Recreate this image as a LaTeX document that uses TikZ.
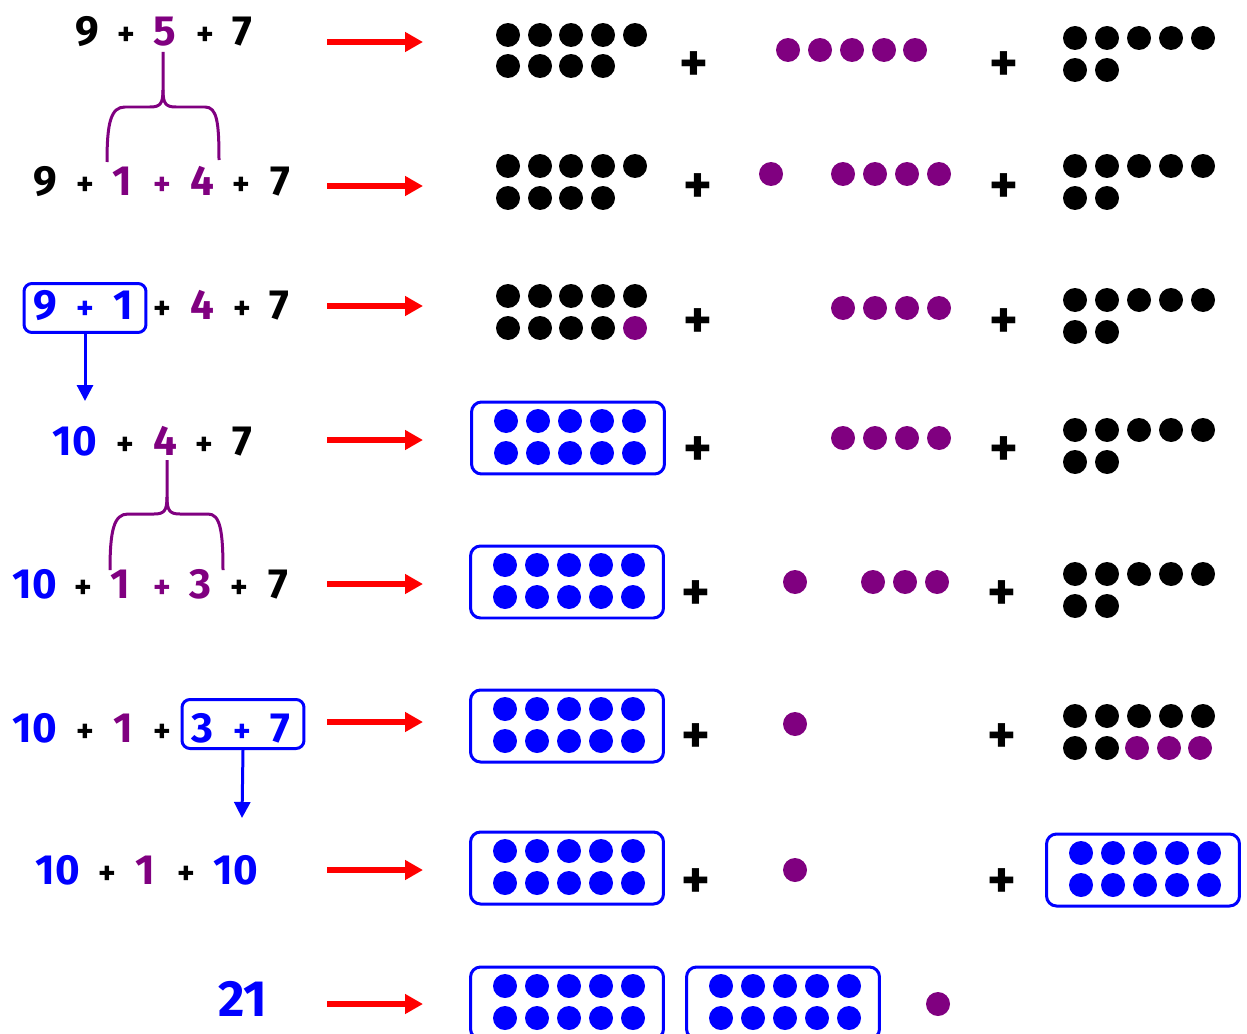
\documentclass[tikz,border=0pt]{standalone}
\usepackage{fontspec}
\setmainfont{Fira Sans}
\usepackage{xcolor}
\usepackage{tikz}
\usetikzlibrary{arrows.meta, positioning}

\definecolor{numblue}{RGB}{0,0,255}
\definecolor{numpurple}{RGB}{128,0,128}

\begin{document}
\begin{tikzpicture}[
    x=0.02cm, y=-0.02cm,
    num/.style={anchor=base, inner sep=0pt, font=\fontsize{24}{24}\selectfont\bfseries},
    bignum/.style={num, font=\fontsize{29}{29}\selectfont\bfseries},
    op/.style={anchor=base, inner sep=0pt, font=\fontsize{19}{19}\selectfont\bfseries},
    bigplus/.style={inner sep=0pt, yshift=-0.08cm, font=\fontsize{31}{31}\selectfont\bfseries},
    sum_box/.style={draw=numblue, line width=0.06cm, rounded corners=0.16cm, minimum width=2.44cm, minimum height=0.98cm},
    ten_box/.style={draw=numblue, line width=0.06cm, rounded corners=0.2cm, minimum width=3.86cm, minimum height=1.44cm},
    move/.style={-{Triangle[length=0.36cm, width=0.38cm]}, line width=0.12cm, red},
    drop/.style={-{Triangle[length=0.32cm, width=0.32cm]}, line width=0.06cm, numblue},
    brace/.style={draw=numpurple, line width=0.06cm}
]
\useasboundingbox (0,0) rectangle (1247,1034);

% Left column: the sums
\node[num] (r1_a) at (87,46) {9};
\node[op] (r1_b) at (126,46) {+};
\node[num, numpurple] (r1_c) at (165,46) {5};
\node[op] (r1_d) at (205,46) {+};
\node[num] (r1_e) at (242,46) {7};

\node[num] (r2_a) at (45,195) {9};
\node[op] (r2_b) at (85,195) {+};
\node[num, numpurple] (r2_c) at (122,195) {1};
\node[op, numpurple] (r2_d) at (162,195) {+};
\node[num, numpurple] (r2_e) at (202,195) {4};
\node[op] (r2_f) at (241,195) {+};
\node[num] (r2_g) at (280,195) {7};

\node[sum_box] (sum_a) at (85,308) {};
\node[num, numblue] (r3_a) at (45,319) {9};
\node[op, numblue] (r3_b) at (85,319) {+};
\node[num, numblue] (r3_c) at (123,319) {1};
\node[op] (r3_d) at (162,319) {+};
\node[num, numpurple] (r3_e) at (202,319) {4};
\node[op] (r3_f) at (242,319) {+};
\node[num] (r3_g) at (279,319) {7};

\node[num, numblue] (r4_a) at (75,455) {10};
\node[op] (r4_b) at (125,455) {+};
\node[num, numpurple] (r4_c) at (165,455) {4};
\node[op] (r4_d) at (204,455) {+};
\node[num] (r4_e) at (242,455) {7};

\node[num, numblue] (r5_a) at (35,598) {10};
\node[op] (r5_b) at (83,598) {+};
\node[num, numpurple] (r5_c) at (120,598) {1};
\node[op, numpurple] (r5_d) at (162,598) {+};
\node[num, numpurple] (r5_e) at (200,598) {3};
\node[op] (r5_f) at (239,598) {+};
\node[num] (r5_g) at (278,598) {7};

\node[sum_box] (sum_b) at (243,724) {};
\node[num, numblue] (r6_a) at (35,742) {10};
\node[op] (r6_b) at (85,742) {+};
\node[num, numpurple] (r6_c) at (123,742) {1};
\node[op] (r6_d) at (162,742) {+};
\node[num, numblue] (r6_e) at (202,742) {3};
\node[op, numblue] (r6_f) at (242,742) {+};
\node[num, numblue] (r6_g) at (280,742) {7};

\node[num, numblue] (r7_a) at (58,884) {10};
\node[op] (r7_b) at (107,884) {+};
\node[num, numpurple] (r7_c) at (145,884) {1};
\node[op] (r7_d) at (186,884) {+};
\node[num, numblue] (r7_e) at (236,884) {10};

\node[bignum, numblue] (r8_a) at (243,1016) {21};

% Braces splitting 5 and 4
\draw[brace] (163,52) -- (163,90) .. controls (163,104) and (160,107) .. (150,107) -- (125,107)
    .. controls (111,107) and (107,122) .. (107,162);
\draw[brace] (163,90) .. controls (163,104) and (166,107) .. (176,107) -- (205,107)
    .. controls (217,107) and (219,122) .. (219,160);
\draw[brace] (167,460) -- (167,497) .. controls (167,511) and (164,514) .. (154,514) -- (128,514)
    .. controls (114,514) and (110,530) .. (110,570);
\draw[brace] (167,497) .. controls (167,511) and (170,514) .. (180,514) -- (208,514)
    .. controls (220,514) and (223,530) .. (223,570);

% Blue arrows under the boxed sums
\coordinate (sum_a_to) at (85,401);
\coordinate (sum_b_to) at (242,818);
\draw[drop] (sum_a.south) -- (sum_a_to);
\draw[drop] (sum_b.south) -- (sum_b_to);

% Red arrows
\foreach \y [count=\i] in {42,186,306,440,584,722,870,1004} {
    \coordinate (move\i_from) at (327,\y);
    \coordinate (move\i_to) at (423,\y);
    \draw[move] (move\i_from) -- (move\i_to);
}

% Plus signs between the groups
\foreach \y/\xa/\xb [count=\i] in {63/694/1004, 185/698/1004, 320/698/1004, 448/698/1004,
    592/696/1002, 735/696/1002, 880/696/1002} {
    \node[bigplus] (plus\i_l) at (\xa,\y) {+};
    \node[bigplus] (plus\i_r) at (\xb,\y) {+};
}

% Tens frames
\node[ten_box] (ten4) at (568,438) {};
\node[ten_box] (ten5) at (567,582) {};
\node[ten_box] (ten6) at (567,726) {};
\node[ten_box] (ten7) at (567,868) {};
\node[ten_box] (ten7_r) at (1143,870) {};
\node[ten_box] (ten8_a) at (567,1003) {};
\node[ten_box] (ten8_b) at (783,1003) {};
\foreach \b in {ten4,ten5,ten6,ten7,ten7_r,ten8_a,ten8_b}
    \foreach \dx in {-64,-32,0,32,64}
        \foreach \dy in {-16,16}
            \fill[numblue] ([shift={(\dx+2,\dy-1)}]\b.center) circle[radius=0.24cm];

% Black counters
\foreach \y in {35,166,296}
    \foreach \x in {508,540,571,603,635} \fill (\x,\y) circle[radius=0.24cm];
\foreach \y in {66,198}
    \foreach \x in {508,540,571,603} \fill (\x,\y) circle[radius=0.24cm];
\foreach \x in {508,540,571,603} \fill (\x,328) circle[radius=0.24cm];
\fill[numpurple] (635,328) circle[radius=0.24cm];

\foreach \y in {38,166,300,430,574,716}
    \foreach \x in {1075,1107,1139,1171,1203} \fill (\x,\y) circle[radius=0.24cm];
\foreach \y in {70,198,332,462,606,748}
    \foreach \x in {1075,1107} \fill (\x,\y) circle[radius=0.24cm];
\foreach \x in {1137,1169,1200} \fill[numpurple] (\x,748) circle[radius=0.24cm];

% Purple counters
\foreach \x in {788,820,852,884,915} \fill[numpurple] (\x,50) circle[radius=0.24cm];
\foreach \x in {771,843,875,907,939} \fill[numpurple] (\x,174) circle[radius=0.24cm];
\foreach \x in {843,875,907,939} \fill[numpurple] (\x,308) circle[radius=0.24cm];
\foreach \x in {843,875,907,939} \fill[numpurple] (\x,438) circle[radius=0.24cm];
\foreach \x in {795,873,905,937} \fill[numpurple] (\x,582) circle[radius=0.24cm];
\fill[numpurple] (795,724) circle[radius=0.24cm];
\fill[numpurple] (795,870) circle[radius=0.24cm];
\fill[numpurple] (938,1004) circle[radius=0.24cm];

\end{tikzpicture}
\end{document}
